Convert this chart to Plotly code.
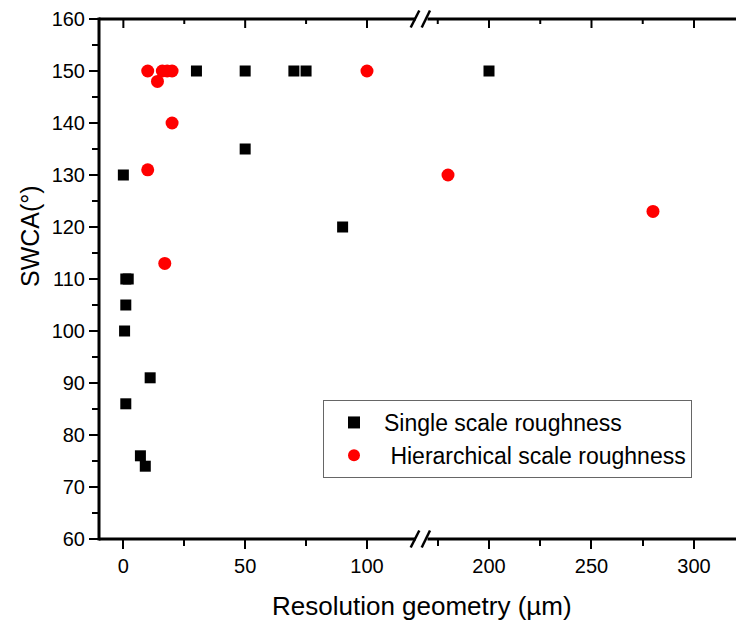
import plotly.graph_objects as go

# ---- data ----
single_x = [0, 1, 2, 1, 0.5, 11, 1, 7, 9, 30, 50, 50, 70, 75, 90, 200]
single_y = [130, 110, 110, 105, 100, 91, 86, 76, 74, 150, 150, 135, 150, 150, 120, 150]
hier_x = [10, 16, 18, 20, 14, 20, 10, 17, 100, 180, 280]
hier_y = [150, 150, 150, 150, 148, 140, 131, 113, 150, 130, 123]

seg1_range = [-10, 120]
seg2_range = [170, 320.5]
x_tick0 = [0, 200]
x_dtick = 50
x_minor_dtick = 25
y_range = [60, 160]
y_dtick = 10
y_minor_dtick = 5

W, H = 736, 623
L, R, T, B = 99, 0, 19, 84
pw = W - L - R
ph = H - T - B

def px(x):
    return (x - L) / pw

def py(y):
    return (H - B - y) / ph

d1 = [0, px(415.7)]
d2 = [px(427.5), 1]

FONT = "Arial, Liberation Sans, sans-serif"

def split(xs, ys, lo, hi):
    pts = [(a, b) for a, b in zip(xs, ys) if lo <= a <= hi]
    return [p[0] for p in pts], [p[1] for p in pts]

fig = go.Figure()
series = [
    ("Single scale roughness", single_x, single_y, "square", "#000000", 11),
    ("\u00a0Hierarchical scale roughness", hier_x, hier_y, "circle", "#ff0000", 13),
]
for name, xs, ys, sym, col, sz in series:
    x1, y1 = split(xs, ys, seg1_range[0], seg1_range[1])
    x2, y2 = split(xs, ys, seg2_range[0], seg2_range[1])
    fig.add_trace(go.Scatter(x=x1, y=y1, mode="markers", name=name, legendgroup=name,
                             marker=dict(symbol=sym, color=col, size=sz, line=dict(width=0)),
                             xaxis="x", yaxis="y"))
    fig.add_trace(go.Scatter(x=x2, y=y2, mode="markers", name=name, legendgroup=name,
                             showlegend=False,
                             marker=dict(symbol=sym, color=col, size=sz, line=dict(width=0)),
                             xaxis="x2", yaxis="y"))

axis_common = dict(showline=False, showgrid=False,
                   zeroline=False, ticklen=9, tickwidth=2, tickcolor="#000000",
                   tickfont=dict(family=FONT, size=20, color="#000000"))

def xaxis(rng, dom, t0):
    return dict(axis_common, range=rng, domain=dom, tickmode="linear", tick0=t0,
                dtick=x_dtick, ticks="outside", side="bottom", anchor="y",
                minor=dict(tick0=t0, dtick=x_minor_dtick, ticks="outside", ticklen=6,
                           tickwidth=2, tickcolor="#000000"))

fig.update_layout(
    width=W, height=H, autosize=False,
    margin=dict(l=L, r=R, t=T, b=B),
    paper_bgcolor="white", plot_bgcolor="white",
    font=dict(family=FONT, color="black"),
    xaxis=xaxis(seg1_range, d1, x_tick0[0]),
    xaxis2=xaxis(seg2_range, d2, x_tick0[1]),
    yaxis=dict(axis_common, range=y_range, domain=[0, 1], tickmode="linear",
               tick0=y_range[0], dtick=y_dtick, ticks="outside", anchor="x",
               minor=dict(tick0=y_range[0], dtick=y_minor_dtick, ticks="outside",
                          ticklen=6, tickwidth=2, tickcolor="#000000")),
    showlegend=True,
    legend=dict(x=px(323), y=py(400), xanchor="left", yanchor="top",
                bgcolor="white", bordercolor="#666666", borderwidth=1,
                font=dict(family=FONT, size=23, color="black"),
                itemsizing="constant", itemwidth=50, tracegroupgap=0),
)

line = dict(color="#000000", width=3)
# axis lines (frame) drawn as paper shapes, centred on the plot edges
for dom in (d1, d2):
    for yy in (0, 1):
        fig.add_shape(type="line", xref="paper", yref="paper", x0=dom[0], x1=dom[1],
                      y0=yy, y1=yy, line=line, layer="above")
fig.add_shape(type="line", xref="paper", yref="paper", x0=0, x1=0,
              y0=-1.5 / ph, y1=1 + 1.5 / ph, line=line, layer="above")

# inward ticks on the top axis (from the axis tick spacing)
for rng, dom, t0 in ((seg1_range, d1, x_tick0[0]), (seg2_range, d2, x_tick0[1])):
    k = -20
    while True:
        v = t0 + k * x_minor_dtick
        k += 1
        if v < rng[0]:
            continue
        if v > rng[1]:
            break
        xp = dom[0] + (v - rng[0]) / (rng[1] - rng[0]) * (dom[1] - dom[0])
        ln = 9 if (v - t0) % x_dtick == 0 else 5
        fig.add_shape(type="line", xref="paper", yref="paper", x0=xp, x1=xp,
                      y0=1, y1=1 - ln / ph, line=dict(color="#000000", width=2))

# axis titles
fig.add_annotation(text="Resolution geometry (\u00b5m)", xref="paper", yref="paper",
                   x=px(422), y=py(606), xanchor="center", yanchor="middle",
                   showarrow=False, font=dict(family=FONT, size=26, color="black"))
fig.add_annotation(text="SWCA(\u00b0)", xref="paper", yref="paper", textangle=-90,
                   x=px(30), y=py(236), xanchor="center", yanchor="middle",
                   showarrow=False, font=dict(family=FONT, size=25, color="black"))

# axis break marks (bottom and top)
for base in (H - B, T):
    for xa, xb in ((410.7, 419.3), (421.7, 430.0)):
        fig.add_shape(type="line", xref="paper", yref="paper",
                      x0=px(xa), y0=py(base + 8.5), x1=px(xb), y1=py(base - 8.5),
                      line=dict(color="#000000", width=2.5))

fig.write_html("out.html")
